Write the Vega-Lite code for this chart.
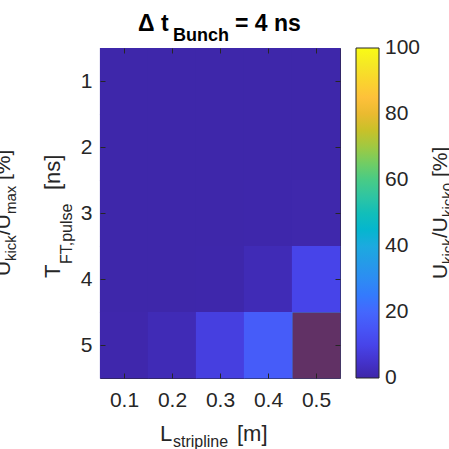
{
  "$schema": "https://vega.github.io/schema/vega-lite/v6.json",
  "width": 240,
  "height": 330,
  "autosize": "none",
  "padding": {"left": 100, "top": 48, "right": 109, "bottom": 71},
  "background": "white",
  "config": {
    "font": "Liberation Sans",
    "view": {"stroke": "#262626", "strokeWidth": 1},
    "axis": {"grid": false, "domain": false, "tickColor": "#262626", "labelColor": "#262626", "labelFont": "Liberation Sans"}
  },
  "data": {
    "values": [
      {"L": 0.1, "T": 1, "U": 0.3}, {"L": 0.2, "T": 1, "U": 0.3}, {"L": 0.3, "T": 1, "U": 0.3}, {"L": 0.4, "T": 1, "U": 0.3}, {"L": 0.5, "T": 1, "U": 0.3},
      {"L": 0.1, "T": 2, "U": 0.3}, {"L": 0.2, "T": 2, "U": 0.3}, {"L": 0.3, "T": 2, "U": 0.3}, {"L": 0.4, "T": 2, "U": 0.3}, {"L": 0.5, "T": 2, "U": 0.3},
      {"L": 0.1, "T": 3, "U": 0.3}, {"L": 0.2, "T": 3, "U": 0.3}, {"L": 0.3, "T": 3, "U": 0.3}, {"L": 0.4, "T": 3, "U": 0.4}, {"L": 0.5, "T": 3, "U": 0.6},
      {"L": 0.1, "T": 4, "U": 0.3}, {"L": 0.2, "T": 4, "U": 0.3}, {"L": 0.3, "T": 4, "U": 0.4}, {"L": 0.4, "T": 4, "U": 2}, {"L": 0.5, "T": 4, "U": 10},
      {"L": 0.1, "T": 5, "U": 0.5}, {"L": 0.2, "T": 5, "U": 2}, {"L": 0.3, "T": 5, "U": 8.5}, {"L": 0.4, "T": 5, "U": 17}, {"L": 0.5, "T": 5, "U": 25, "marked": true}
    ]
  },
  "layer": [
    {
      "mark": {"type": "rect", "binSpacing": 0, "x2Offset": -0.6, "y2Offset": 0.6},
      "encoding": {
        "x": {
          "field": "L", "type": "quantitative",
          "bin": {"extent": [0.05, 0.55], "step": 0.1, "nice": false},
          "scale": {"domain": [0.05, 0.55], "nice": false, "zero": false},
          "axis": {"orient": "bottom", "values": [0.1, 0.2, 0.3, 0.4, 0.5], "format": ".1f", "title": null, "tickSize": -5, "labelFontSize": 21, "labelPadding": 16, "labelFlush": false}
        },
        "y": {
          "field": "T", "type": "quantitative",
          "bin": {"extent": [0.5, 5.5], "step": 1, "nice": false},
          "scale": {"domain": [0.5, 5.5], "nice": false, "zero": false, "reverse": true},
          "axis": {"orient": "left", "values": [1, 2, 3, 4, 5], "format": "d", "title": null, "tickSize": -5, "labelFontSize": 21, "labelPadding": 13, "labelFlush": false}
        },
        "color": {
          "field": "U", "type": "quantitative",
          "scale": {
            "domain": [0, 100],
            "interpolate": "rgb",
            "range": ["#3e26a8", "#4433cc", "#4744e9", "#4755f6", "#4467fd", "#347afd", "#2d8cf3", "#259be8", "#1caadf", "#05b6ce", "#12beb9", "#2fc5a2", "#48cb86", "#71cd64", "#9fc942", "#c8c129", "#eaba30", "#fec13a", "#fad42e", "#f5e825", "#f9fb15"]
          },
          "legend": {
            "title": null, "orient": "right", "offset": 15, "direction": "vertical",
            "gradientLength": 330, "gradientThickness": 23,
            "gradientStrokeColor": "#262626", "gradientStrokeWidth": 1,
            "values": [0, 20, 40, 60, 80, 100],
            "labelFontSize": 21, "labelColor": "#262626", "labelOffset": 6, "labelFont": "Liberation Sans",
            "encode": {"labels": {"update": {"baseline": {"value": "middle"}}}}
          }
        }
      }
    },
    {
      "transform": [{"filter": "datum.marked === true"}],
      "mark": {"type": "rect", "binSpacing": 0, "fill": "#800000", "fillOpacity": 0.6},
      "encoding": {
        "x": {
          "field": "L", "type": "quantitative",
          "bin": {"extent": [0.05, 0.55], "step": 0.1, "nice": false},
          "axis": {"orient": "top", "values": [0.1, 0.2, 0.3, 0.4, 0.5], "labels": false, "title": null, "tickSize": -5}
        },
        "y": {
          "field": "T", "type": "quantitative",
          "bin": {"extent": [0.5, 5.5], "step": 1, "nice": false},
          "axis": {"orient": "right", "values": [1, 2, 3, 4, 5], "labels": false, "title": null, "tickSize": -5}
        }
      }
    },
    {
      "data": {"values": [{"t": "Δ t"}]},
      "mark": {"type": "text", "fontSize": 23, "fontWeight": "bold", "align": "left", "baseline": "alphabetic", "color": "#000000"},
      "encoding": {"x": {"datum": 0.1292, "type": "quantitative", "axis": null}, "y": {"datum": 0.2424, "type": "quantitative", "axis": null}, "text": {"field": "t"}}
    },
    {
      "data": {"values": [{"t": "Bunch"}]},
      "mark": {"type": "text", "fontSize": 18, "fontWeight": "bold", "align": "left", "baseline": "alphabetic", "color": "#000000"},
      "encoding": {"x": {"datum": 0.2021, "type": "quantitative", "axis": null}, "y": {"datum": 0.394, "type": "quantitative", "axis": null}, "text": {"field": "t"}}
    },
    {
      "data": {"values": [{"t": "= 4 ns"}]},
      "mark": {"type": "text", "fontSize": 23, "fontWeight": "bold", "align": "left", "baseline": "alphabetic", "color": "#000000"},
      "encoding": {"x": {"datum": 0.33125, "type": "quantitative", "axis": null}, "y": {"datum": 0.2424, "type": "quantitative", "axis": null}, "text": {"field": "t"}}
    },
    {
      "data": {"values": [{"t": "L"}]},
      "mark": {"type": "text", "fontSize": 22, "align": "left", "baseline": "alphabetic", "color": "#262626"},
      "encoding": {"x": {"datum": 0.175, "type": "quantitative", "axis": null}, "y": {"datum": 6.4545, "type": "quantitative", "axis": null}, "text": {"field": "t"}}
    },
    {
      "data": {"values": [{"t": "stripline"}]},
      "mark": {"type": "text", "fontSize": 16, "align": "left", "baseline": "alphabetic", "color": "#262626"},
      "encoding": {"x": {"datum": 0.2021, "type": "quantitative", "axis": null}, "y": {"datum": 6.545, "type": "quantitative", "axis": null}, "text": {"field": "t"}}
    },
    {
      "data": {"values": [{"t": "[m]"}]},
      "mark": {"type": "text", "fontSize": 22, "align": "left", "baseline": "alphabetic", "color": "#262626"},
      "encoding": {"x": {"datum": 0.3354, "type": "quantitative", "axis": null}, "y": {"datum": 6.4545, "type": "quantitative", "axis": null}, "text": {"field": "t"}}
    },
    {
      "data": {"values": [{"t": "T"}]},
      "mark": {"type": "text", "fontSize": 22, "angle": 270, "align": "left", "baseline": "alphabetic", "color": "#262626"},
      "encoding": {"x": {"datum": -0.0333, "type": "quantitative", "axis": null}, "y": {"datum": 3.985, "type": "quantitative", "axis": null}, "text": {"field": "t"}}
    },
    {
      "data": {"values": [{"t": "FT,pulse"}]},
      "mark": {"type": "text", "fontSize": 16, "angle": 270, "align": "left", "baseline": "alphabetic", "color": "#262626"},
      "encoding": {"x": {"datum": -0.0083, "type": "quantitative", "axis": null}, "y": {"datum": 3.773, "type": "quantitative", "axis": null}, "text": {"field": "t"}}
    },
    {
      "data": {"values": [{"t": "[ns]"}]},
      "mark": {"type": "text", "fontSize": 22, "angle": 270, "align": "left", "baseline": "alphabetic", "color": "#262626"},
      "encoding": {"x": {"datum": -0.0333, "type": "quantitative", "axis": null}, "y": {"datum": 2.652, "type": "quantitative", "axis": null}, "text": {"field": "t"}}
    },
    {
      "data": {"values": [{"t": "U"}]},
      "mark": {"type": "text", "fontSize": 21, "angle": 270, "align": "left", "baseline": "alphabetic", "color": "#262626"},
      "encoding": {"x": {"datum": 0.7729, "type": "quantitative", "axis": null}, "y": {"datum": 4.0, "type": "quantitative", "axis": null}, "text": {"field": "t"}}
    },
    {
      "data": {"values": [{"t": "kick"}]},
      "mark": {"type": "text", "fontSize": 15, "angle": 270, "align": "left", "baseline": "alphabetic", "color": "#262626"},
      "encoding": {"x": {"datum": 0.7854, "type": "quantitative", "axis": null}, "y": {"datum": 3.773, "type": "quantitative", "axis": null}, "text": {"field": "t"}}
    },
    {
      "data": {"values": [{"t": "/U"}]},
      "mark": {"type": "text", "fontSize": 21, "angle": 270, "align": "left", "baseline": "alphabetic", "color": "#262626"},
      "encoding": {"x": {"datum": 0.7729, "type": "quantitative", "axis": null}, "y": {"datum": 3.379, "type": "quantitative", "axis": null}, "text": {"field": "t"}}
    },
    {
      "data": {"values": [{"t": "kick0"}]},
      "mark": {"type": "text", "fontSize": 15, "angle": 270, "align": "left", "baseline": "alphabetic", "color": "#262626"},
      "encoding": {"x": {"datum": 0.7854, "type": "quantitative", "axis": null}, "y": {"datum": 3.061, "type": "quantitative", "axis": null}, "text": {"field": "t"}}
    },
    {
      "data": {"values": [{"t": "[%]"}]},
      "mark": {"type": "text", "fontSize": 21, "angle": 270, "align": "left", "baseline": "alphabetic", "color": "#262626"},
      "encoding": {"x": {"datum": 0.7729, "type": "quantitative", "axis": null}, "y": {"datum": 2.4545, "type": "quantitative", "axis": null}, "text": {"field": "t"}}
    },
    {
      "data": {"values": [{"t": "U"}]},
      "mark": {"type": "text", "fontSize": 21, "angle": 270, "align": "left", "baseline": "alphabetic", "color": "#262626"},
      "encoding": {"x": {"datum": -0.1375, "type": "quantitative", "axis": null}, "y": {"datum": 3.9545, "type": "quantitative", "axis": null}, "text": {"field": "t"}}
    },
    {
      "data": {"values": [{"t": "kick"}]},
      "mark": {"type": "text", "fontSize": 15, "angle": 270, "align": "left", "baseline": "alphabetic", "color": "#262626"},
      "encoding": {"x": {"datum": -0.125, "type": "quantitative", "axis": null}, "y": {"datum": 3.727, "type": "quantitative", "axis": null}, "text": {"field": "t"}}
    },
    {
      "data": {"values": [{"t": "/U"}]},
      "mark": {"type": "text", "fontSize": 21, "angle": 270, "align": "left", "baseline": "alphabetic", "color": "#262626"},
      "encoding": {"x": {"datum": -0.1375, "type": "quantitative", "axis": null}, "y": {"datum": 3.333, "type": "quantitative", "axis": null}, "text": {"field": "t"}}
    },
    {
      "data": {"values": [{"t": "max"}]},
      "mark": {"type": "text", "fontSize": 15, "angle": 270, "align": "left", "baseline": "alphabetic", "color": "#262626"},
      "encoding": {"x": {"datum": -0.125, "type": "quantitative", "axis": null}, "y": {"datum": 3.015, "type": "quantitative", "axis": null}, "text": {"field": "t"}}
    },
    {
      "data": {"values": [{"t": "[%]"}]},
      "mark": {"type": "text", "fontSize": 21, "angle": 270, "align": "left", "baseline": "alphabetic", "color": "#262626"},
      "encoding": {"x": {"datum": -0.1375, "type": "quantitative", "axis": null}, "y": {"datum": 2.5, "type": "quantitative", "axis": null}, "text": {"field": "t"}}
    }
  ],
  "resolve": {"axis": {"x": "independent", "y": "independent"}}
}
